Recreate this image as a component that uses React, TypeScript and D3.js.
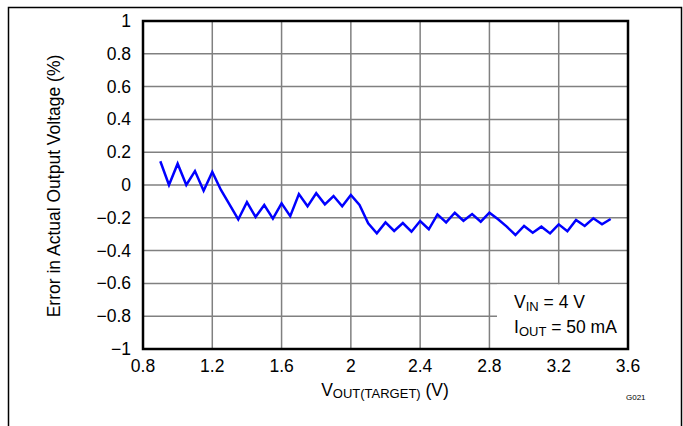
import React from "react";
import * as d3 from "d3";

const xValues = [
  0.9, 0.95, 1.0, 1.05, 1.1, 1.15, 1.2, 1.25, 1.3, 1.35, 1.4, 1.45, 1.5, 1.55,
  1.6, 1.65, 1.7, 1.75, 1.8, 1.85, 1.9, 1.95, 2.0, 2.05, 2.1, 2.15, 2.2, 2.25,
  2.3, 2.35, 2.4, 2.45, 2.5, 2.55, 2.6, 2.65, 2.7, 2.75, 2.8, 2.85, 2.9, 2.95,
  3.0, 3.05, 3.1, 3.15, 3.2, 3.25, 3.3, 3.35, 3.4, 3.45, 3.5,
];
const errorValues = [
  0.145, 0.0, 0.13, 0.0, 0.085, -0.035, 0.08, -0.03, -0.12, -0.21, -0.105,
  -0.195, -0.122, -0.205, -0.112, -0.19, -0.055, -0.13, -0.05, -0.118, -0.067,
  -0.13, -0.061, -0.122, -0.234, -0.295, -0.228, -0.28, -0.232, -0.285, -0.22,
  -0.27, -0.179, -0.228, -0.169, -0.218, -0.177, -0.224, -0.169, -0.209,
  -0.254, -0.305, -0.25, -0.291, -0.254, -0.295, -0.24, -0.282, -0.213, -0.25,
  -0.203, -0.24, -0.207,
];
const xTicks = [0.8, 1.2, 1.6, 2.0, 2.4, 2.8, 3.2, 3.6];
const xTickLabels = ["0.8", "1.2", "1.6", "2", "2.4", "2.8", "3.2", "3.6"];
const yTicks = [1, 0.8, 0.6, 0.4, 0.2, 0, -0.2, -0.4, -0.6, -0.8, -1];
const yTickLabels = ["1", "0.8", "0.6", "0.4", "0.2", "0", "\u22120.2", "\u22120.4", "\u22120.6", "\u22120.8", "\u22121"];

const FONT = "'Liberation Sans', Arial, Helvetica, sans-serif";

export default function App() {
  const W = 683;
  const H = 426;
  const left = 143, right = 628, top = 21, bottom = 349;
  const x = d3.scaleLinear().domain([0.8, 3.6]).range([left, right]);
  const y = d3.scaleLinear().domain([-1, 1]).range([bottom, top]);
  const data = xValues.map((v, i) => [v, errorValues[i]] as [number, number]);
  const line = d3
    .line<[number, number]>()
    .x((d) => x(d[0]))
    .y((d) => y(d[1]));

  const fs = 17.5;
  const sub = 13;

  return (
    <svg
      width={W}
      height={H}
      style={{ position: "absolute", left: 0, top: 0, background: "#fff" }}
      fontFamily={FONT}
    >
      <rect x={0} y={0} width={W} height={H} fill="#fff" />
      {/* outer frame */}
      <path d={`M8.5,${H} V7.5 H681.5 V${H}`} fill="none" stroke="#000" strokeWidth={1.5} />

      {/* grid */}
      {xTicks.slice(1, -1).map((t) => (
        <line key={"gx" + t} x1={x(t)} x2={x(t)} y1={top} y2={bottom} stroke="#808080" strokeWidth={1.5} />
      ))}
      {yTicks.slice(1, -1).map((t) => (
        <line key={"gy" + t} x1={left} x2={right} y1={y(t)} y2={y(t)} stroke="#808080" strokeWidth={1.5} />
      ))}

      {/* legend box (white) */}
      <rect x={497} y={y(-0.6) + 1} width={right - 497} height={bottom - y(-0.6) - 1} fill="#fff" />

      {/* data line */}
      <path d={line(data) || ""} fill="none" stroke="#0000ff" strokeWidth={2.5} strokeLinejoin="miter" />

      {/* plot frame */}
      <rect x={left} y={top} width={right - left} height={bottom - top} fill="none" stroke="#000" strokeWidth={2.5} />

      {/* x tick labels */}
      {xTicks.map((t, i) => (
        <text key={"xt" + t} x={x(t)} y={372} fontSize={fs} textAnchor="middle" fill="#000">
          {xTickLabels[i]}
        </text>
      ))}
      {/* y tick labels */}
      {yTicks.map((t, i) => (
        <text key={"yt" + t} x={131} y={y(t) + 6} fontSize={fs} textAnchor="end" fill="#000">
          {yTickLabels[i]}
        </text>
      ))}

      {/* y title */}
      <text transform={`translate(60,186) rotate(-90)`} fontSize={fs} textAnchor="middle" fill="#000">
        Error in Actual Output Voltage (%)
      </text>

      {/* x title */}
      <text x={385} y={396} fontSize={fs} textAnchor="middle" fill="#000">
        V
        <tspan fontSize={sub} dy={2}>OUT(TARGET)</tspan>
        <tspan dy={-2}> (V)</tspan>
      </text>

      {/* legend text */}
      <text x={514} y={308} fontSize={fs} fill="#000">
        V<tspan fontSize={sub} dy={3}>IN</tspan>
        <tspan dy={-3}> = 4 V</tspan>
      </text>
      <text x={514} y={333} fontSize={fs} fill="#000">
        I<tspan fontSize={sub} dy={3}>OUT</tspan>
        <tspan dy={-3}> = 50 mA</tspan>
      </text>

      <text x={626} y={400} fontSize={8} fill="#000">
        G021
      </text>
    </svg>
  );
}
